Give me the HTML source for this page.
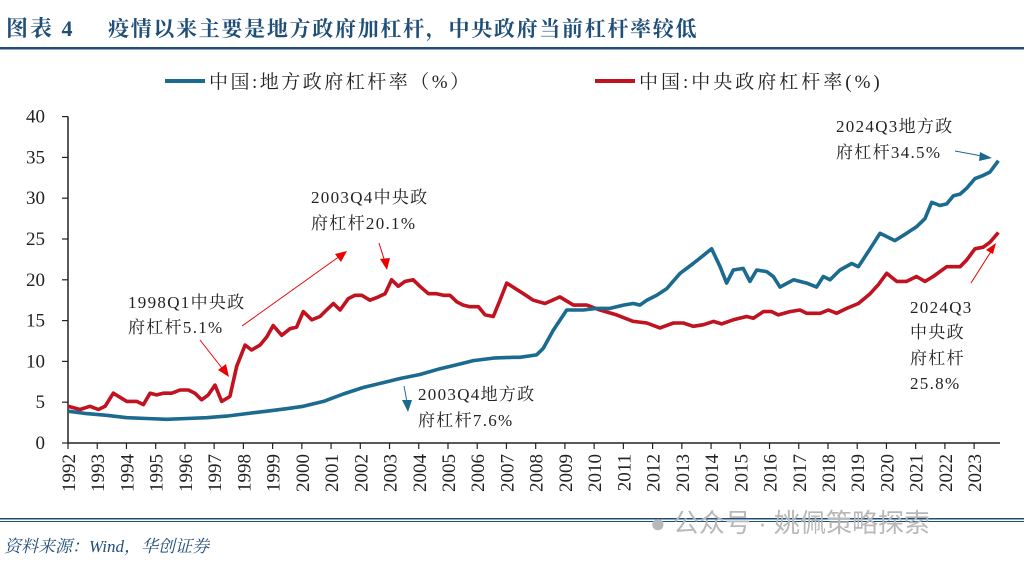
<!DOCTYPE html>
<html><head><meta charset="utf-8">
<style>
body{margin:0;width:1024px;height:566px;background:#fff;overflow:hidden;font-family:"Liberation Serif","Noto Serif CJK SC",serif;}
svg{position:absolute;left:0;top:0;}
</style></head>
<body>
<svg width="1024" height="566">
<text x="6" y="36" font-size="22" font-weight="bold" fill="#1f4e79" font-family="'Liberation Serif','Noto Serif CJK SC',serif" letter-spacing="2">图表 4</text>
<text x="108" y="36" font-size="21" font-weight="bold" fill="#1f4e79" font-family="'Liberation Serif','Noto Serif CJK SC',serif" letter-spacing="1.7">疫情以来主要是地方政府加杠杆，中央政府当前杠杆率较低</text>
<rect x="0" y="47" width="1024" height="2.5" fill="#1f4e79"/>
<g>
 <g>
  <line x1="165" y1="81" x2="205" y2="81" stroke="#1b6a8f" stroke-width="4"/>
  <text x="209" y="88" font-size="19" fill="#222" letter-spacing="2.5">中国:地方政府杠杆率（%）</text>
 </g>
 <g>
  <line x1="595" y1="81" x2="635" y2="81" stroke="#c0121f" stroke-width="4"/>
  <text x="639" y="88" font-size="19" fill="#222" letter-spacing="3">中国:中央政府杠杆率(%)</text>
 </g>
</g>
<g id="axes"></g>
<g id="series"></g>
<g font-size="17" fill="#222" letter-spacing="1.3">
 <text x="128" y="308">1998Q1中央政</text>
 <text x="128" y="333">府杠杆5.1%</text>
 <line x1="200" y1="340" x2="225" y2="372" stroke="#e00" stroke-width="1"/>
 <polygon points="229,377 218,370 226,364" fill="#e00"/>
 <line x1="242" y1="326" x2="340" y2="256" stroke="#e00" stroke-width="1"/>
 <polygon points="347,251 335,254 341,262" fill="#e00"/>
 <text x="311" y="203">2003Q4中央政</text>
 <text x="311" y="229">府杠杆20.1%</text>
 <line x1="379" y1="243" x2="385" y2="262" stroke="#e00" stroke-width="1"/>
 <polygon points="387,270 380,259 390,258" fill="#e00"/>
 <text x="418" y="400">2003Q4地方政</text>
 <text x="418" y="426">府杠杆7.6%</text>
 <line x1="404" y1="386" x2="407" y2="402" stroke="#1b6a8f" stroke-width="1"/>
 <polygon points="408,412 402,400 412,400" fill="#1b6a8f"/>
 <text x="836" y="132">2024Q3地方政</text>
 <text x="836" y="158">府杠杆34.5%</text>
 <line x1="955" y1="151" x2="982" y2="156" stroke="#1b6a8f" stroke-width="1"/>
 <polygon points="992,158 980,152 979,161" fill="#1b6a8f"/>
 <text x="910" y="313">2024Q3</text>
 <text x="910" y="338">中央政</text>
 <text x="910" y="364">府杠杆</text>
 <text x="910" y="389">25.8%</text>
 <line x1="971" y1="283" x2="992" y2="250" stroke="#e00" stroke-width="1"/>
 <polygon points="996,243 986,250 993,254" fill="#e00"/>
</g>
<rect x="0" y="518" width="1024" height="1.5" fill="#1f4e79"/>
<rect x="0" y="521" width="1024" height="1" fill="#1f4e79"/>
<text x="650" y="532" font-size="26" fill="#b8b8b8" font-family="'Liberation Sans','Noto Sans CJK SC',sans-serif">● 公众号 · 姚佩策略探索</text>
<text x="4" y="552" font-size="17" font-style="italic" fill="#1f4e79">资料来源：Wind，华创证券</text>
</svg>
<script>
const yTicks=[0,5,10,15,20,25,30,35,40];
const years=[1992,1993,1994,1995,1996,1997,1998,1999,2000,2001,2002,2003,2004,2005,2006,2007,2008,2009,2010,2011,2012,2013,2014,2015,2016,2017,2018,2019,2020,2021,2022,2023];
const centralT=[1992.00,1992.41,1992.75,1993.04,1993.27,1993.55,1994.01,1994.35,1994.58,1994.81,1995.03,1995.26,1995.55,1995.83,1996.12,1996.34,1996.57,1996.80,1997.03,1997.26,1997.54,1997.77,1998.06,1998.28,1998.57,1998.80,1999.02,1999.31,1999.59,1999.82,2000.05,2000.34,2000.62,2000.79,2001.08,2001.31,2001.59,2001.82,2002.05,2002.33,2002.62,2002.85,2003.07,2003.30,2003.53,2003.81,2004.04,2004.33,2004.61,2004.84,2005.07,2005.30,2005.52,2005.75,2006.04,2006.27,2006.55,2006.78,2007.01,2007.58,2007.92,2008.32,2008.83,2009.29,2009.75,2010.20,2010.77,2011.34,2011.80,2012.25,2012.71,2013.05,2013.39,2013.74,2014.08,2014.36,2014.76,2015.22,2015.45,2015.79,2016.07,2016.30,2016.70,2017.04,2017.27,2017.73,2018.01,2018.30,2018.64,2019.04,2019.44,2019.72,2020.01,2020.35,2020.69,2021.03,2021.32,2021.60,2022.06,2022.52,2022.74,2023.03,2023.31,2023.54,2023.83];
const centralV=[4.5,4.1,4.5,4.1,4.5,6.1,5.1,5.1,4.7,6.1,5.9,6.1,6.1,6.5,6.5,6.1,5.3,5.9,7.1,5.1,5.7,9.4,12.0,11.4,12.0,13.0,14.4,13.2,14.0,14.2,16.1,15.1,15.5,16.1,17.1,16.3,17.7,18.1,18.1,17.5,17.9,18.3,20.0,19.2,19.8,20.0,19.2,18.3,18.3,18.1,18.1,17.3,16.9,16.7,16.7,15.7,15.5,17.5,19.6,18.3,17.5,17.1,17.9,16.9,16.9,16.3,15.7,14.9,14.7,14.1,14.7,14.7,14.3,14.5,14.9,14.6,15.1,15.5,15.3,16.1,16.1,15.7,16.1,16.3,15.9,15.9,16.3,15.9,16.5,17.1,18.3,19.4,20.8,19.8,19.8,20.4,19.8,20.4,21.6,21.6,22.4,23.8,24.0,24.6,25.8];
const localT=[1992.00,1992.64,1993.32,1994.01,1994.69,1995.38,1996.06,1996.74,1997.43,1998.11,1998.80,1999.48,2000.05,2000.74,2001.42,2002.10,2002.79,2003.36,2004.04,2004.73,2005.30,2005.87,2006.55,2007.24,2007.46,2008.03,2008.26,2008.60,2009.06,2009.63,2010.09,2010.54,2011.00,2011.34,2011.57,2011.80,2012.14,2012.48,2012.94,2013.39,2013.74,2014.02,2014.31,2014.53,2014.76,2015.10,2015.33,2015.56,2015.90,2016.13,2016.36,2016.82,2017.27,2017.61,2017.84,2018.07,2018.41,2018.81,2019.04,2019.44,2019.78,2020.29,2020.69,2021.03,2021.32,2021.55,2021.83,2022.06,2022.29,2022.52,2022.74,2023.03,2023.31,2023.54,2023.83];
const localV=[3.9,3.6,3.4,3.1,3.0,2.9,3.0,3.1,3.3,3.6,3.9,4.2,4.5,5.1,6.0,6.8,7.4,7.9,8.4,9.1,9.6,10.1,10.4,10.5,10.5,10.8,11.6,13.8,16.3,16.3,16.5,16.5,16.9,17.1,16.9,17.5,18.1,18.9,20.8,22.0,23.0,23.8,21.6,19.6,21.2,21.4,19.8,21.2,21.0,20.4,19.1,20.0,19.6,19.1,20.4,20.0,21.2,22.0,21.6,23.8,25.7,24.8,25.7,26.5,27.5,29.5,29.1,29.3,30.3,30.5,31.2,32.4,32.8,33.2,34.6];

const X0=68,YEARW=29.23,Y0=443,UNIT=8.16;
function xs(t){return X0+(t-1992)*YEARW;}
function ys(v){return Y0-v*UNIT;}
const NS='http://www.w3.org/2000/svg';
function mk(tag,attrs,parent){const e=document.createElementNS(NS,tag);for(const k in attrs)e.setAttribute(k,attrs[k]);parent.appendChild(e);return e;}
const axes=document.getElementById('axes');
const yAxis=mk('line',{x1:X0,y1:ys(40),x2:X0,y2:Y0,stroke:'#222','stroke-width':1.5},axes);


const xAxis=mk('line',{x1:X0,y1:Y0,x2:1000,y2:Y0,stroke:'#222','stroke-width':1.5},axes);


yTicks.forEach(v=>{
  const t=mk('line',{x1:X0-6,y1:ys(v),x2:X0,y2:ys(v),stroke:'#222','stroke-width':1.2},axes);
  
  
  const l=mk('text',{x:45,y:ys(v)+6,'font-size':19,'text-anchor':'end',fill:'#222'},axes);
  l.textContent=v;
  
  
});
years.forEach(y=>{
  const x=xs(y);
  const t=mk('line',{x1:x,y1:Y0,x2:x,y2:Y0+6,stroke:'#222','stroke-width':1.2},axes);
  
  
  const l=mk('text',{x:0,y:0,'font-size':19,'text-anchor':'end',fill:'#222',transform:`translate(${x+7},${Y0+11}) rotate(-90)`},axes);
  l.textContent=y;
  
  
});
const ser=document.getElementById('series');
function path(T,V,color,name){
  const d=T.map((t,i)=>(i?'L':'M')+xs(t).toFixed(1)+','+ys(V[i]).toFixed(1)).join('');
  const p=mk('path',{d:d,fill:'none',stroke:color,'stroke-width':3.6,'stroke-linejoin':'round'},ser);
  
  
}
path(centralT,centralV,'#c0121f','central-gov-leverage-line');
path(localT,localV,'#1b6a8f','local-gov-leverage-line');
</script>
</body></html>
